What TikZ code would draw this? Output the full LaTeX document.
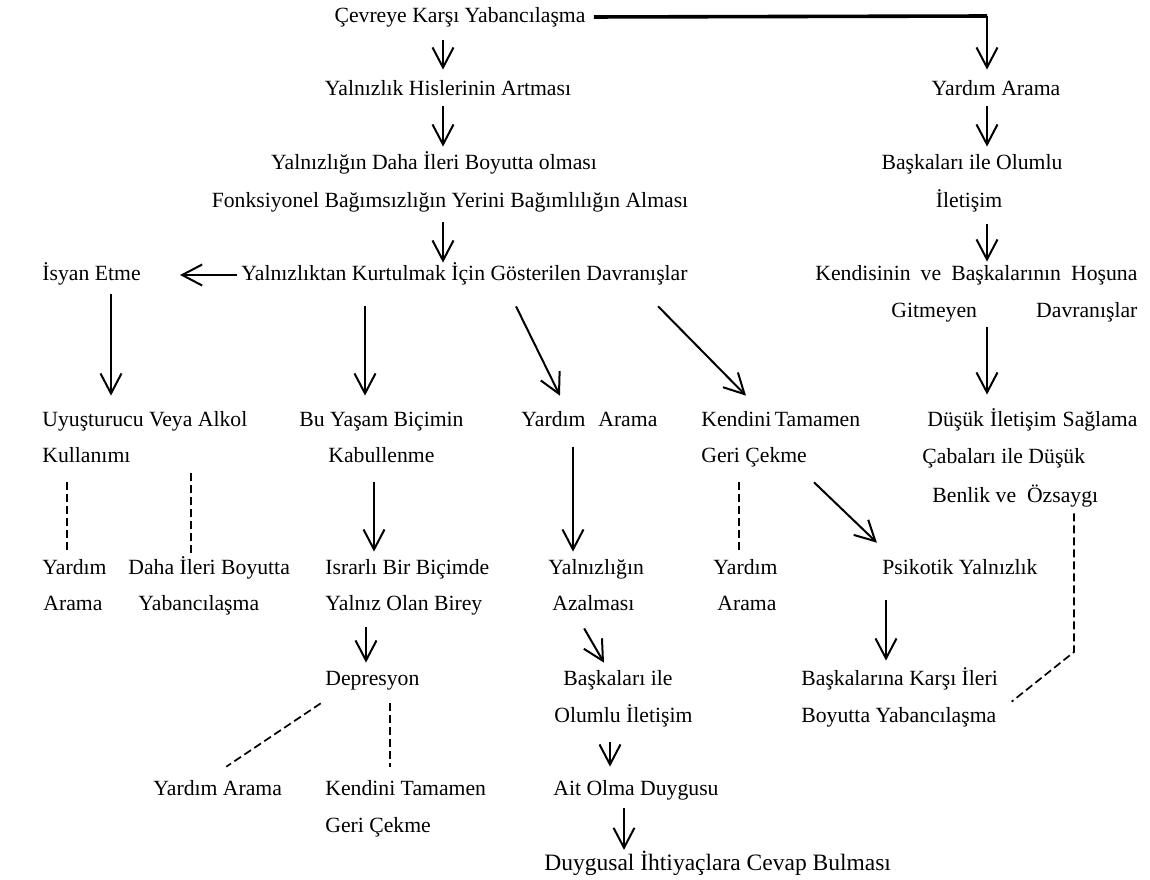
\documentclass[tikz,border=0pt]{standalone}
\usepackage{fontspec}
\setmainfont{Liberation Serif}
\usetikzlibrary{arrows.meta}
\begin{document}
\begin{tikzpicture}[x=0.5pt,y=-0.5pt,
    lbl/.style={inner sep=0pt,anchor=west,text height=7.5pt,text depth=2.5pt,font=\fontsize{10.85}{13}\selectfont},
    arr/.style={line width=1pt,-{Straight Barb[length=10pt,width=10.5pt]}},
    dsh/.style={line width=0.85pt,dash pattern=on 4pt off 2pt}]
\useasboundingbox (0,0) rectangle (1150,879);
\node[lbl,anchor=center] (cevre) at (460,17) {Çevreye Karşı Yabancılaşma};
\node[lbl,anchor=center] (hisler) at (448,90) {Yalnızlık Hislerinin Artması};
\node[lbl,anchor=center] (daha) at (434,164) {Yalnızlığın Daha İleri Boyutta olması};
\node[lbl,anchor=center] (fonk) at (450,202) {Fonksiyonel Bağımsızlığın Yerini Bağımlılığın Alması};
\node[lbl] (kurtul) at (241,275) {Yalnızlıktan Kurtulmak İçin Gösterilen Davranışlar};
\node[lbl] (isyan) at (42,275) {İsyan Etme};
\node[lbl,anchor=center] (yardim1) at (996,90) {Yardım Arama};
\node[lbl,anchor=center] (olumlu1) at (972,164) {Başkaları ile Olumlu};
\node[lbl,anchor=center] (iletisim1) at (969,202) {İletişim};
\node[lbl] (hosuna) at (815,275) {\makebox[161pt][s]{Kendisinin ve Başkalarının Hoşuna}};
\node[lbl] (gitmeyen) at (891,312) {\makebox[123pt][s]{Gitmeyen Davranışlar}};
\node[lbl] (uyus) at (42,421) {Uyuşturucu Veya Alkol};
\node[lbl] (yasam) at (299,421) {Bu Yaşam Biçimin};
\node[lbl] (yardim2) at (521,421) {\makebox[68pt][s]{Yardım Arama}};
\node[lbl] (kendini1) at (701,421) {\makebox[79pt][s]{Kendini Tamamen}};
\node[lbl] (dusuk) at (927,421) {\makebox[105pt][s]{Düşük İletişim Sağlama}};
\node[lbl] (kullanim) at (42,457) {Kullanımı};
\node[lbl] (kabul) at (328,457) {Kabullenme};
\node[lbl] (geri1) at (701,457) {Geri Çekme};
\node[lbl] (caba) at (922,458) {Çabaları ile Düşük};
\node[lbl] (benlik) at (932,497) {Benlik ve\ \ Özsaygı};
\node[lbl] (yardim3) at (42,569) {Yardım};
\node[lbl] (ileri) at (128,569) {Daha İleri Boyutta};
\node[lbl] (israrli) at (325,569) {Israrlı Bir Biçimde};
\node[lbl] (yalnizlik) at (548,569) {Yalnızlığın};
\node[lbl] (yardim4) at (713,569) {Yardım};
\node[lbl] (psikotik) at (882,569) {Psikotik Yalnızlık};
\node[lbl] (arama3) at (43,605) {Arama};
\node[lbl] (yaban1) at (138,605) {Yabancılaşma};
\node[lbl] (birey) at (325,605) {Yalnız Olan Birey};
\node[lbl] (azalma) at (552,605) {Azalması};
\node[lbl] (arama4) at (717,605) {Arama};
\node[lbl] (depresyon) at (325,680) {Depresyon};
\node[lbl] (baskalari) at (563,680) {Başkaları ile};
\node[lbl] (karsi) at (801,680) {Başkalarına Karşı İleri};
\node[lbl] (olumlu2) at (554,717) {Olumlu İletişim};
\node[lbl] (yaban2) at (801,717) {Boyutta Yabancılaşma};
\node[lbl] (yardim5) at (153,790) {Yardım Arama};
\node[lbl] (kendini2) at (325,790) {Kendini Tamamen};
\node[lbl] (ait) at (553,790) {Ait Olma Duygusu};
\node[lbl] (geri2) at (325,827) {Geri Çekme};
\node[lbl,font=\fontsize{11.75}{14}\selectfont,text height=8pt,text depth=2.7pt] (duygusal) at (544,865) {Duygusal İhtiyaçlara Cevap Bulması};
\coordinate (kose) at (987,16);
\coordinate (kose2) at (1074,652);
\draw[line width=1.8pt,shorten <=4pt] (cevre.east) -- (kose);
\draw[arr,shorten >=5pt] (kose) -- (yardim1.north -| kose);
\draw[arr,shorten <=6.5pt,shorten >=5pt] (cevre.south -| 443,0) -- (hisler.north -| 443,0);
\draw[arr,shorten <=3pt,shorten >=3.5pt] (hisler.south -| 443,0) -- (daha.north -| 443,0);
\draw[arr,shorten <=5pt,shorten >=1pt] (fonk.south -| 443,0) -- (kurtul.north -| 443,0);
\draw[arr,shorten <=2pt,shorten >=19.5pt] (kurtul.west) -- (isyan.east);
\draw[arr,shorten <=3pt,shorten >=3.5pt] (yardim1.south -| 987,0) -- (olumlu1.north -| 987,0);
\draw[arr,shorten <=6pt,shorten >=1.5pt] (iletisim1.south -| 987,0) -- (hosuna.north -| 987,0);
\draw[arr,shorten <=2.5pt,shorten >=8pt] (gitmeyen.south -| 987,0) -- (dusuk.north -| 987,0);
\draw[arr,shorten <=4.5pt,shorten >=7.5pt] (isyan.south -| 111,0) -- (uyus.north -| 111,0);
\draw[arr,shorten <=10.5pt,shorten >=7.5pt] (kurtul.south -| 365,0) -- (yasam.north -| 365,0);
\draw[arr,shorten <=11.7pt,shorten >=8.3pt] (kurtul.south -| 505.7,0) -- (yardim2.north -| 567.3,0);
\draw[arr,shorten <=14.7pt,shorten >=10.5pt] (kurtul.south -| 637.5,0) -- (kendini1.north -| 760.7,0);
\draw[arr,shorten <=7.5pt,shorten >=3.5pt] (kabul.south -| 374,0) -- (israrli.north -| 374,0);
\draw[arr,shorten <=8pt,shorten >=3.5pt] (yardim2.south -| 573,0) -- (yalnizlik.north -| 573,0);
\draw[arr,shorten <=6pt,shorten >=3.5pt] (birey.south -| 366,0) -- (depresyon.north -| 366,0);
\draw[arr,shorten <=7.5pt,shorten >=4pt] (azalma.south -| 576.6,0) -- (baskalari.north -| 608,0);
\draw[arr,shorten <=10.8pt,shorten >=11.5pt] (geri1.south -| 798.5,0) -- (psikotik.north -| 893.5,0);
\draw[arr,shorten <=10.5pt,shorten >=4.5pt] (psikotik.south -| 886,0) -- (karsi.north -| 886,0);
\draw[arr,shorten <=7.5pt,shorten >=6.5pt] (olumlu2.south -| 610,0) -- (ait.north -| 610,0);
\draw[arr,shorten <=4pt,shorten >=2pt] (ait.south -| 624,0) -- (duygusal.north -| 624,0);
\draw[dsh,shorten <=7.5pt,shorten >=3pt] (kullanim.south -| 67,0) -- (yardim3.north -| 67,0);
\draw[dsh,shorten <=21pt,shorten >=3pt] (uyus.south -| 191,0) -- (ileri.north -| 191,0);
\draw[dsh,shorten <=7.5pt,shorten >=3.5pt] (geri1.south -| 739,0) -- (yardim4.north -| 739,0);
\draw[dsh,shorten <=3pt] (benlik.south -| 1074,0) -- (kose2) -- ([xshift=7.5pt,yshift=2.5pt]yaban2.north east);
\draw[dsh,shorten <=11.6pt,shorten >=11.6pt] (depresyon.south -| 340,0) -- (yardim5.north -| 207,0);
\draw[dsh,shorten <=6.5pt,shorten >=6.5pt] (depresyon.south -| 390,0) -- (kendini2.north -| 390,0);
\end{tikzpicture}
\end{document}
